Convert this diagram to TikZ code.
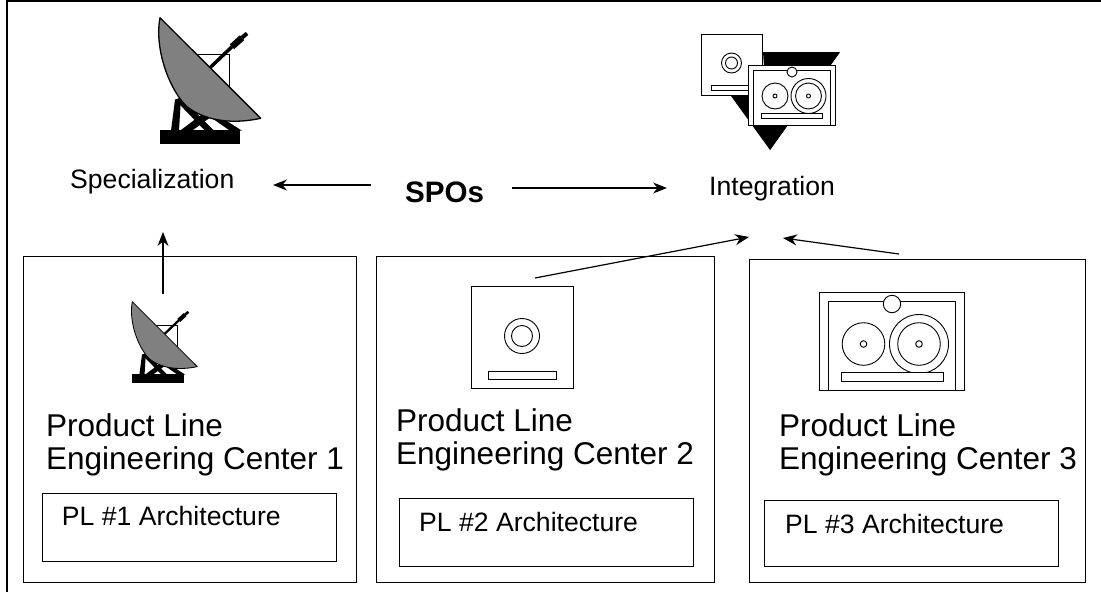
\documentclass[tikz,border=0pt]{standalone}
\usepackage{fontspec}
\setmainfont{Liberation Sans}
\usetikzlibrary{arrows.meta}
\tikzset{
  box/.style={draw=black,line width=1.3pt},
  conn/.style={draw=black,line width=1.2pt,-{Stealth[length=14pt,width=11pt]}},
  lab/.style={inner sep=0pt,anchor=base west,font=\fontsize{26.6}{30}\selectfont},
  plab/.style={inner sep=0pt,anchor=base west,font=\fontsize{26.6}{30}\selectfont},
  big/.style={inner sep=0pt,anchor=base west,align=left,font=\fontsize{31.5}{32.5}\selectfont},
}
% #1 = x, #2 = y of dish top tip, #3 = scale
\newcommand{\dishicon}[3]{
\begin{scope}[shift={(#1,#2)},scale=#3]
  \draw[line width=#3*1.2pt] (36.7,36.7) rectangle (69.3,69);
  \draw[line width=#3*3.5pt] (50,50) -- (72,29);
  \draw[line width=#3*6.5pt] (72,29) -- (82,20);
  \draw[line width=#3*4pt] (82,20) -- (87,15.7);
  \fill (0,112.6) rectangle (80,126);
  \fill (11,113) -- (15,82) -- (21,80) -- (19,113) -- cycle;
  \fill (15,82) -- (21,80) -- (54,113) -- (45,113) -- cycle;
  \fill (20,113) -- (44,95) -- (49,92) -- (54,97) -- (32,113) -- cycle;
  \fill (44,95) -- (49,92) -- (82,113) -- (70,113) -- cycle;
  \draw[fill=black!50,line width=#3*1.3pt,line join=round]
    (0,0) .. controls (-6,32) and (10,73) .. (27,89)
    .. controls (48,105) and (76,106) .. (100.7,100.6) -- cycle;
\end{scope}}
\begin{document}
\begin{tikzpicture}[x=1pt,y=-1pt]
\useasboundingbox (0,0) rectangle (1101,592);
\draw[line width=1.3pt] (7,592) -- (7,1) -- (1101,1);
\dishicon{160}{17.7}{1}
\dishicon{132.3}{301.7}{0.645}
% integration icon
\fill (763,52) -- (840,52) -- (770,150) -- cycle;
\fill (731,96) -- (840,52) -- (770,150) -- cycle;
\draw[line width=1pt,fill=white] (701,34) rectangle (762,95);
\draw[line width=.9pt] (731.5,63) circle (10);
\draw[line width=.9pt] (731.5,63) circle (6);
\draw[line width=.9pt,fill=white] (711,85) rectangle (750,90);
\draw[line width=1pt,fill=white] (748,65) rectangle (835,125);
\draw[line width=1pt] (753,70) -- (830,70) (753,70) -- (753,125) (830,70) -- (830,125);
\draw[line width=.9pt,fill=white] (792,72) circle (5);
\draw[line width=.9pt] (775,96) circle (13);
\draw[line width=.9pt] (808.5,96) circle (17.5);
\draw[line width=.9pt] (808.5,96) circle (13);
\draw[line width=.9pt] (775,96) circle (2);
\draw[line width=.9pt] (808.5,96) circle (2);
\draw[line width=.9pt,fill=white] (761,113) rectangle (822,118);
% boxes
\node[box,minimum width=333pt,minimum height=326pt,anchor=north west,inner sep=0pt] (c1) at (23,256) {};
\node[box,minimum width=338pt,minimum height=326pt,anchor=north west,inner sep=0pt] (c2) at (376,256) {};
\node[box,minimum width=336pt,minimum height=323pt,anchor=north west,inner sep=0pt] (c3) at (749,259) {};
\node[box,minimum width=294.5pt,minimum height=68pt,anchor=north west,inner sep=0pt] (a1) at (41.5,493) {};
\node[box,minimum width=294pt,minimum height=68pt,anchor=north west,inner sep=0pt] (a2) at (399,498) {};
\node[box,minimum width=294pt,minimum height=66pt,anchor=north west,inner sep=0pt] (a3) at (764,500) {};
% panel 2
\draw[line width=1pt] (471,286) rectangle (573,388);
\draw[line width=.9pt] (522,336) circle (17.5);
\draw[line width=.9pt] (522,336) circle (10.5);
\draw[line width=.9pt] (488,371) rectangle (556,379);
% panel 3
\draw[line width=1pt] (819,292) rectangle (964,390);
\draw[line width=1pt] (828,390) -- (828,301) -- (955,301) -- (955,390);
\draw[line width=.9pt,fill=white] (892,304) circle (8.7);
\draw[line width=.9pt] (863.5,344) circle (21.3);
\draw[line width=.9pt] (863.5,344) circle (3.3);
\draw[line width=.9pt] (919,344) circle (29.5);
\draw[line width=.9pt] (919,344) circle (21.3);
\draw[line width=.9pt] (919,344) circle (3.3);
\draw[line width=.9pt,fill=white] (841,372) rectangle (943,381);
% labels
\node[lab] (spec) at (70,188) {Specialization};
\node[lab] (integ) at (709,195) {Integration};
\node[inner sep=0pt,anchor=base west,font=\fontsize{29.6}{32}\selectfont\bfseries] (spos) at (405,202) {SPOs};
\node[big] (t1) at (46,469) {Product Line\\Engineering Center 1};
\node[big] (t2) at (396,464) {Product Line\\Engineering Center 2};
\node[big] (t3) at (779,469) {Product Line\\Engineering Center 3};
\node[plab] (p1) at (61.7,525.5) {PL \#1 Architecture};
\node[plab] (p2) at (419,531) {PL \#2 Architecture};
\node[plab] (p3) at (785,533.5) {PL \#3 Architecture};
% connectors
\coordinate (s1) at (371,185); \coordinate (s1e) at (273,185);
\coordinate (s2) at (512,188); \coordinate (s2e) at (667,188);
\coordinate (u) at (163,294); \coordinate (ue) at (163,232);
\coordinate (m) at (535,278); \coordinate (me) at (749,237);
\coordinate (r) at (899,254); \coordinate (re) at (783,238);
\draw[conn] (s1) -- (s1e);
\draw[conn] (s2) -- (s2e);
\draw[conn] (u) -- (ue);
\draw[conn] (m) -- (me);
\draw[conn] (r) -- (re);
\end{tikzpicture}
\end{document}
